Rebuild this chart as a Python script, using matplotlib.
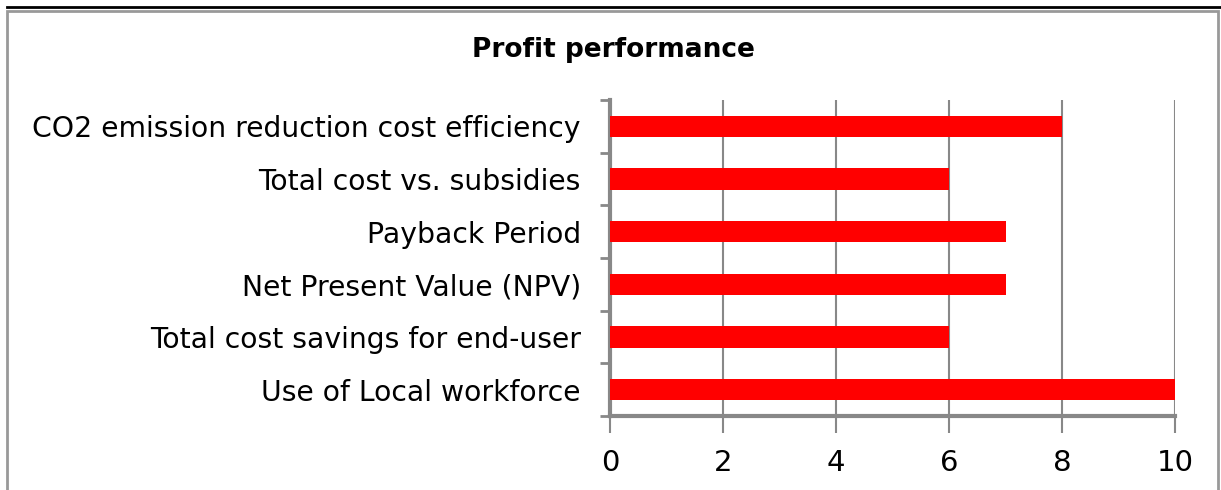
import matplotlib.pyplot as plt
from matplotlib.lines import Line2D
from matplotlib.patches import Rectangle

categories = [
    "CO2 emission reduction cost efficiency",
    "Total cost vs. subsidies",
    "Payback Period",
    "Net Present Value (NPV)",
    "Total cost savings for end-user",
    "Use of Local workforce",
]
scores = [8, 6, 7, 7, 6, 10]
xticks = [0, 2, 4, 6, 8, 10]

plt.rcParams['font.family'] = ['DejaVu Sans']

fig = plt.figure(figsize=(12.21, 4.9), dpi=100)
ax = fig.add_axes([610 / 1221, 1 - 416 / 490, 565 / 1221, 316 / 490])

pos = list(range(len(categories)))
ax.barh(pos, scores, height=0.4, color="#ff0000", zorder=3)

ax.set_ylim(len(categories) - 0.5, -0.5)
ax.set_xlim(0, 10)
ax.set_xticks(xticks)
ax.set_xticklabels([str(t) for t in xticks], fontsize=21)
ax.set_yticks(pos)
ax.set_yticklabels(categories, fontsize=20.3)
ax.set_yticks([p - 0.5 for p in pos] + [len(categories) - 0.5], minor=True)

ax.tick_params(axis="y", which="major", length=0, pad=21)
ax.tick_params(axis="y", which="minor", length=7, width=2, color="#888888")
ax.tick_params(axis="x", length=12, width=1.5, color="#888888", pad=12)

ax.grid(axis="x", color="#888888", linewidth=1.5, zorder=0)
for s in ["top", "right"]:
    ax.spines[s].set_visible(False)
for s in ["left", "bottom"]:
    ax.spines[s].set_color("#888888")
    ax.spines[s].set_linewidth(3)

fig.text(613 / 1221, 1 - 50 / 490, "Profit performance", ha="center", va="center",
         fontsize=19, fontweight="bold")

# outer frame
fig.add_artist(Line2D([7 / 1221, 1], [1 - 7 / 490, 1 - 7 / 490], color="black", linewidth=2))
fig.add_artist(Rectangle((7 / 1221, -0.01), 1211 / 1221, 1.01 - 11 / 490, fill=False,
                         edgecolor="#999999", linewidth=2))

fig.savefig("out.png", dpi=100)
